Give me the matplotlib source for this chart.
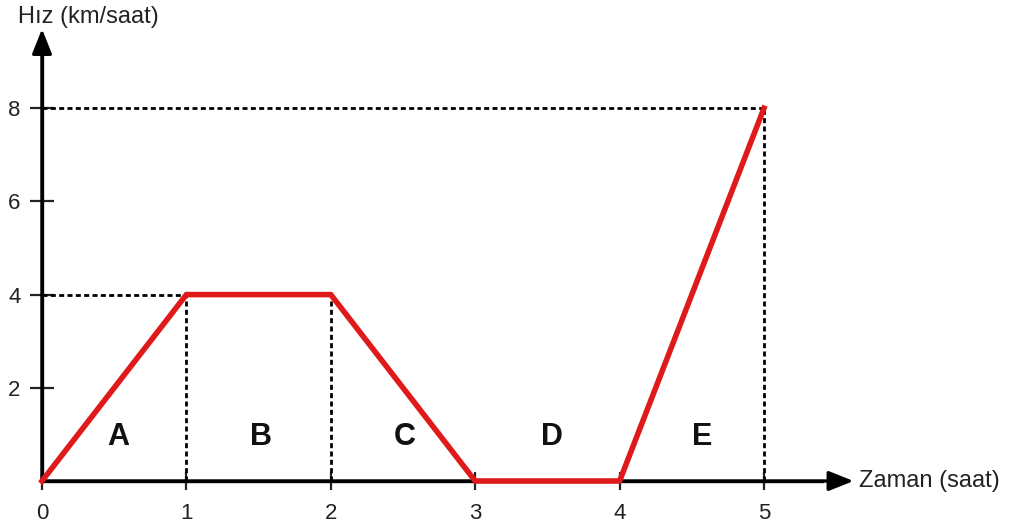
import matplotlib
matplotlib.use("Agg")
import matplotlib.pyplot as plt

# Data
times = [0, 1, 2, 3, 4, 5]
speeds = [0, 4, 4, 0, 0, 8]
x_ticks = [0, 1, 2, 3, 4, 5]
y_ticks = [2, 4, 6, 8]
segment_labels = ["A", "B", "C", "D", "E"]
segment_label_x = [0.53, 1.52, 2.51, 3.53, 4.57]
segment_label_y = 0.94
x_label = "Zaman (saat)"
y_label = "Hız (km/saat)"

plt.rcParams['font.family'] = ['Liberation Sans', 'DejaVu Sans']

W, H = 1013, 529
fig = plt.figure(figsize=(W / 100, H / 100), dpi=100)
ax = fig.add_axes([0, 0, 1, 1])

# pixel mapping
x0_px, xu = 42, 144.4
y0_px, yu = 481, 46.6
ax.set_xlim(-x0_px / xu, (W - x0_px) / xu)
ax.set_ylim(-(H - y0_px) / yu, y0_px / yu)

for s in ['top', 'right']:
    ax.spines[s].set_visible(False)
ax.spines['left'].set_position(('data', 0))
ax.spines['bottom'].set_position(('data', 0))
ax.spines['left'].set_linewidth(2.4)
ax.spines['bottom'].set_linewidth(2.4)
ax.spines['left'].set_bounds(0, 9.3)
ax.spines['bottom'].set_bounds(0, 5.4)

ax.set_xticks(x_ticks)
ax.set_yticks(y_ticks)
ax.tick_params(axis='both', direction='inout', width=1.6, labelsize=16, colors='#222222')
ax.tick_params(axis='y', length=17, pad=7)
ax.tick_params(axis='x', length=13, pad=9)
ax.set_xticklabels([str(v) for v in x_ticks])
ax.set_yticklabels([str(v) for v in y_ticks])

# arrows
astyle = '-|>,head_length=1.5,head_width=0.6'
ax.annotate('', xy=(0, 9.7), xytext=(0, 0),
            arrowprops=dict(arrowstyle=astyle, lw=2.4, color='black', shrinkA=0, shrinkB=0))
ax.annotate('', xy=(5.62, 0), xytext=(0, 0),
            arrowprops=dict(arrowstyle=astyle, lw=2.4, color='black', shrinkA=0, shrinkB=0))

# dotted guide lines
dot = dict(color='black', lw=2.0, linestyle=(0, (1.8, 1.2)))
ax.plot([0, times[5]], [speeds[5], speeds[5]], **dot)
ax.plot([times[5], times[5]], [0, speeds[5]], **dot)
ax.plot([0, times[1]], [speeds[1], speeds[1]], **dot)
ax.plot([times[1], times[1]], [0, speeds[1]], **dot)
ax.plot([times[2], times[2]], [0, speeds[2]], **dot)

# speed line
ax.plot(times, speeds, color='#e01a1a', lw=4.0, solid_joinstyle='miter', zorder=5)

for lab, lx in zip(segment_labels, segment_label_x):
    ax.text(lx, segment_label_y, lab, fontsize=22, fontweight='bold',
            ha='center', va='center', color='#111111')

ax.text(0.32, 9.96, y_label, fontsize=17, ha='center', va='center', color='#222222')
ax.text(5.66, 0, x_label, fontsize=17, ha='left', va='center', color='#222222')

fig.savefig('out.png', dpi=100)
